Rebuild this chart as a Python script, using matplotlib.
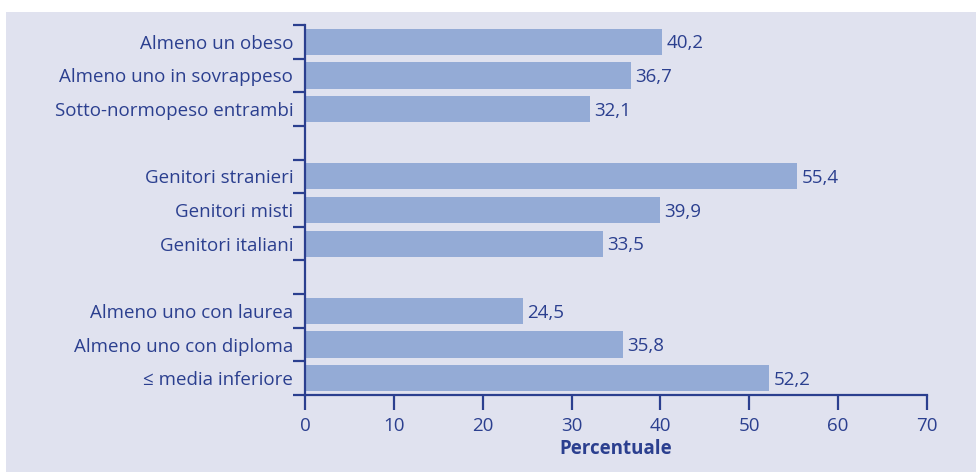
import numpy as np
import matplotlib.pyplot as plt
from matplotlib.patches import Rectangle

# Dati
categorie = ['Almeno un obeso', 'Almeno uno in sovrappeso', 'Sotto-normopeso entrambi',
             '',
             'Genitori stranieri', 'Genitori misti', 'Genitori italiani',
             '',
             'Almeno uno con laurea', 'Almeno uno con diploma', '\u2264 media inferiore']
valori = [40.2, 36.7, 32.1, None, 55.4, 39.9, 33.5, None, 24.5, 35.8, 52.2]

blu = '#2b3f8f'
barra = '#94abd6'
sfondo = '#e0e2ef'

plt.rcParams['font.family'] = ['Open Sans', 'DejaVu Sans']

fig = plt.figure(figsize=(9.76, 4.72), dpi=100)
fig.patches.append(Rectangle((6 / 976, 0), 1, 1 - 12 / 472, transform=fig.transFigure,
                             facecolor=sfondo, edgecolor='none', zorder=-1))
ax = fig.add_axes([305 / 976, 1 - 395 / 472, (927 - 305) / 976, (395 - 25) / 472])
ax.set_facecolor('none')

fs = 13.5
pos = np.arange(len(categorie))
for p, v in zip(pos, valori):
    if v is None:
        continue
    ax.barh(p, v, height=0.78, color=barra, zorder=2)
    ax.text(v + 0.5, p + 0.05, f'{v:.1f}'.replace('.', ','), va='center', ha='left',
            fontsize=fs, color=blu)

ax.set_xlim(0, 70)
ax.set_ylim(len(categorie) - 0.5, -0.5)
ax.set_xticks(range(0, 71, 10))
ax.set_yticks(np.arange(-0.5, len(categorie), 1))
ax.set_yticklabels([])
ax.set_yticks(pos, minor=True)
ax.set_yticklabels(categorie, minor=True)
ax.tick_params(axis='y', which='major', length=9, width=1.6, color=blu, direction='out')
ax.tick_params(axis='y', which='minor', length=0, pad=8.5, labelsize=fs, labelcolor=blu)
ax.tick_params(axis='x', length=11, width=1.6, color=blu, labelsize=fs, labelcolor=blu, pad=5)

for s in ['top', 'right']:
    ax.spines[s].set_visible(False)
for s in ['left', 'bottom']:
    ax.spines[s].set_color(blu)
    ax.spines[s].set_linewidth(1.6)

ax.set_xlabel('Percentuale', fontsize=fs, fontweight='bold', color=blu, labelpad=3)

plt.savefig('out.png', dpi=100)
